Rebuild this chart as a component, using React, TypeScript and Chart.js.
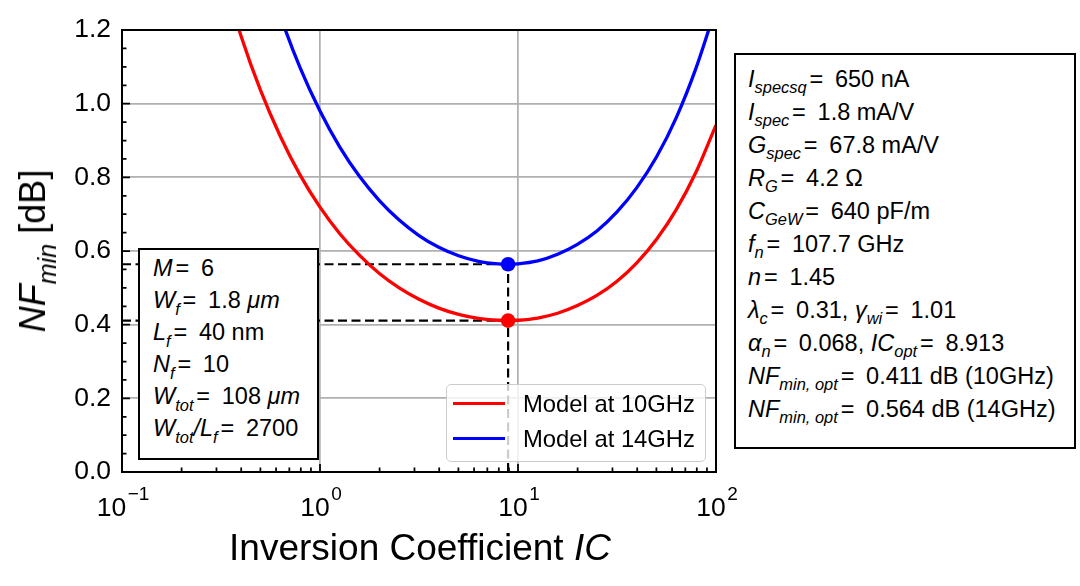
import React, { useEffect, useRef } from "react";
import { Chart, registerables } from "chart.js";

Chart.register(...registerables);

// ---------- data ----------
const seriesLabels = ["Model at 10GHz", "Model at 14GHz"];
const seriesColors = ["#ff0000", "#0000ff"];

const redIC = [0.316, 0.398, 0.501, 0.631, 0.794, 1.0, 1.259, 1.585, 1.995, 2.512, 3.162, 3.981, 5.012, 6.31, 7.943, 8.913, 10, 12.59, 15.85, 19.95, 25.12, 31.62, 39.81, 50.12, 63.1, 79.43, 100];
const redNF = [1.366, 1.186, 1.036, 0.911, 0.806, 0.719, 0.647, 0.588, 0.539, 0.5, 0.469, 0.445, 0.428, 0.417, 0.412, 0.411, 0.412, 0.418, 0.431, 0.452, 0.48, 0.518, 0.568, 0.632, 0.713, 0.815, 0.942];

const blueIC = [0.501, 0.631, 0.794, 1.0, 1.259, 1.585, 1.995, 2.512, 3.162, 3.981, 5.012, 6.31, 7.943, 8.913, 10, 12.59, 15.85, 19.95, 25.12, 31.62, 39.81, 50.12, 63.1, 79.43, 100];
const blueNF = [1.407, 1.238, 1.097, 0.98, 0.882, 0.802, 0.737, 0.684, 0.642, 0.61, 0.587, 0.572, 0.565, 0.564, 0.565, 0.573, 0.591, 0.618, 0.655, 0.706, 0.772, 0.856, 0.963, 1.098, 1.262];

const IC_OPT = 8.913;
const NF_OPT = [0.411, 0.564];

const xMajorTicks = [0.1, 1, 10, 100];
const xTickExponents = ["\u22121", "0", "1", "2"];
const xMinorTicks = [0.2, 0.3, 0.4, 0.5, 0.6, 0.7, 0.8, 0.9, 2, 3, 4, 5, 6, 7, 8, 9, 20, 30, 40, 50, 60, 70, 80, 90];
const yMajorTicks = [0, 0.2, 0.4, 0.6, 0.8, 1.0, 1.2];
const yMinorTicks = [0.05, 0.1, 0.15, 0.25, 0.3, 0.35, 0.45, 0.5, 0.55, 0.65, 0.7, 0.75, 0.85, 0.9, 0.95, 1.05, 1.1, 1.15];

const FONT = '"Liberation Sans", Arial, Helvetica, sans-serif';

// ---------- plugin: inward ticks, spines, x tick labels ----------
const axesDecor = {
  id: "axesDecor",
  afterDatasetsDraw(chart: any) {
    const { ctx, chartArea: a } = chart;
    const xs = chart.scales.x;
    const ys = chart.scales.y;
    ctx.save();
    ctx.strokeStyle = "#000";
    ctx.lineWidth = 1.75;
    ctx.beginPath();
    yMajorTicks.forEach((v) => {
      const y = ys.getPixelForValue(v);
      ctx.moveTo(a.left, y);
      ctx.lineTo(a.left + 8, y);
    });
    yMinorTicks.forEach((v) => {
      const y = ys.getPixelForValue(v);
      ctx.moveTo(a.left, y);
      ctx.lineTo(a.left + 4.5, y);
    });
    xMajorTicks.forEach((v) => {
      const x = xs.getPixelForValue(v);
      ctx.moveTo(x, a.bottom);
      ctx.lineTo(x, a.bottom - 8);
    });
    xMinorTicks.forEach((v) => {
      const x = xs.getPixelForValue(v);
      ctx.moveTo(x, a.bottom);
      ctx.lineTo(x, a.bottom - 4.5);
    });
    ctx.stroke();

    ctx.lineWidth = 2;
    ctx.strokeRect(a.left, a.top, a.right - a.left, a.bottom - a.top);

    // x tick labels 10^n
    ctx.fillStyle = "#000";
    ctx.textBaseline = "alphabetic";
    ctx.textAlign = "left";
    xMajorTicks.forEach((v, i) => {
      const x = xs.getPixelForValue(v);
      ctx.font = `26.5px ${FONT}`;
      const w1 = ctx.measureText("10").width;
      ctx.font = `19px ${FONT}`;
      const w2 = ctx.measureText(xTickExponents[i]).width;
      const total = w1 + 1.5 + w2;
      const x0 = x - total / 2 + 1;
      ctx.font = `26.5px ${FONT}`;
      ctx.fillText("10", x0, a.bottom + 44);
      ctx.font = `19px ${FONT}`;
      ctx.fillText(xTickExponents[i], x0 + w1 + 1.5, a.bottom + 28);
    });
    ctx.restore();
  },
};

const Sub = ({ children }: { children: any }) => (
  <span style={{ fontSize: "0.7em", position: "relative", top: "0.42em", lineHeight: 0, fontStyle: "italic" }}>{children}</span>
);
const Eq = () => <span style={{ marginLeft: "0.12em", marginRight: "0.5em" }}>=</span>;

export default function App() {
  const canvasRef = useRef<HTMLCanvasElement | null>(null);

  useEffect(() => {
    const canvas = canvasRef.current;
    if (!canvas) return;
    const toPts = (xs: number[], ys: number[]) => xs.map((x, i) => ({ x, y: ys[i] }));
    const dashed = {
      borderColor: "#000",
      borderWidth: 2.2,
      borderDash: [9, 4.5],
      pointRadius: 0,
      fill: false,
      order: 3,
      clip: 0,
    };
    const chart = new Chart(canvas, {
      type: "line",
      data: {
        datasets: [
          {
            label: seriesLabels[0] + " opt",
            data: [{ x: IC_OPT, y: NF_OPT[0] }],
            showLine: false,
            pointRadius: 7.3,
            pointBackgroundColor: seriesColors[0],
            pointBorderWidth: 0,
            order: 1,
          },
          {
            label: seriesLabels[1] + " opt",
            data: [{ x: IC_OPT, y: NF_OPT[1] }],
            showLine: false,
            pointRadius: 7.3,
            pointBackgroundColor: seriesColors[1],
            pointBorderWidth: 0,
            order: 1,
          },
          {
            label: seriesLabels[0],
            data: toPts(redIC, redNF),
            borderColor: seriesColors[0],
            borderWidth: 3.3,
            pointRadius: 0,
            cubicInterpolationMode: "monotone",
            order: 2,
            clip: 0,
          },
          {
            label: seriesLabels[1],
            data: toPts(blueIC, blueNF),
            borderColor: seriesColors[1],
            borderWidth: 3.3,
            pointRadius: 0,
            cubicInterpolationMode: "monotone",
            order: 2,
            clip: 0,
          },
          { label: "h10", data: [{ x: xMajorTicks[0], y: NF_OPT[0] }, { x: IC_OPT, y: NF_OPT[0] }], ...dashed },
          { label: "h14", data: [{ x: xMajorTicks[0], y: NF_OPT[1] }, { x: IC_OPT, y: NF_OPT[1] }], ...dashed },
          { label: "v", data: [{ x: IC_OPT, y: 0 }, { x: IC_OPT, y: NF_OPT[1] }], ...dashed },
        ] as any,
      },
      options: {
        responsive: false,
        animation: false,
        events: [],
        layout: { padding: { left: 0, top: 30, right: 364, bottom: 0 } },
        plugins: { legend: { display: false }, tooltip: { enabled: false } },
        scales: {
          x: {
            type: "logarithmic",
            min: 0.1,
            max: 100,
            afterBuildTicks: (s: any) => {
              s.ticks = xMajorTicks.map((v) => ({ value: v }));
            },
            afterFit: (s: any) => {
              s.height = 114;
            },
            ticks: { display: false },
            grid: { color: "#b0b0b0", lineWidth: 1.75, drawTicks: false },
            border: { display: false },
          },
          y: {
            type: "linear",
            min: 0,
            max: 1.2,
            afterBuildTicks: (s: any) => {
              s.ticks = yMajorTicks.map((v) => ({ value: v }));
            },
            afterFit: (s: any) => {
              s.width = 122;
            },
            ticks: {
              autoSkip: false,
              padding: 11,
              color: "#000",
              font: { family: "Liberation Sans", size: 26.5 },
              callback: (v: any) => Number(v).toFixed(1),
            },
            grid: { color: "#b0b0b0", lineWidth: 1.75, drawTicks: false },
            border: { display: false },
          },
        },
      } as any,
      plugins: [axesDecor],
    });
    return () => chart.destroy();
  }, []);

  const leftLines = [
    <><i>M</i><Eq />6</>,
    <><i>W</i><Sub>f</Sub><Eq />1.8 <i>μm</i></>,
    <><i>L</i><Sub>f</Sub><Eq />40 nm</>,
    <><i>N</i><Sub>f</Sub><Eq />10</>,
    <><i>W</i><Sub>tot</Sub><Eq />108 <i>μm</i></>,
    <><i>W</i><Sub>tot</Sub><i>/L</i><Sub>f</Sub><Eq />2700</>,
  ];
  const rightLines = [
    <><i>I</i><Sub>specsq</Sub><Eq />650 nA</>,
    <><i>I</i><Sub>spec</Sub><Eq />1.8 mA/V</>,
    <><i>G</i><Sub>spec</Sub><Eq />67.8 mA/V</>,
    <><i>R</i><Sub>G</Sub><Eq />4.2 Ω</>,
    <><i>C</i><Sub>GeW</Sub><Eq />640 pF/m</>,
    <><i>f</i><Sub>n</Sub><Eq />107.7 GHz</>,
    <><i>n</i><Eq />1.45</>,
    <><i>λ</i><Sub>c</Sub><Eq />0.31, <i>γ</i><Sub>wi</Sub><Eq />1.01</>,
    <><i>α</i><Sub>n</Sub><Eq />0.068, <i>IC</i><Sub>opt</Sub><Eq />8.913</>,
    <><i>NF</i><Sub>min, opt</Sub><Eq />0.411 dB (10GHz)</>,
    <><i>NF</i><Sub>min, opt</Sub><Eq />0.564 dB (14GHz)</>,
  ];

  const boxFont = 23.5;

  return (
    <div
      style={{
        position: "absolute",
        left: 0,
        top: 0,
        width: 1080,
        height: 586,
        overflow: "hidden",
        background: "#fff",
        fontFamily: FONT,
        color: "#000",
      }}
    >
      <canvas ref={canvasRef} width={1080} height={586} style={{ position: "absolute", left: 0, top: 0, width: 1080, height: 586 }} />

      {/* y axis title */}
      <div
        style={{
          position: "absolute",
          left: 33,
          top: 251,
          transform: "translate(-50%,-50%) rotate(-90deg)",
          fontSize: 36,
          lineHeight: 1,
          whiteSpace: "nowrap",
        }}
      >
        <i>NF</i>
        <Sub>min</Sub> [dB]
      </div>

      {/* x axis title */}
      <div
        style={{
          position: "absolute",
          left: 420,
          top: 529.4,
          transform: "translateX(-50%)",
          fontSize: 37,
          lineHeight: 1,
          whiteSpace: "nowrap",
        }}
      >
        Inversion Coefficient <i>IC</i>
      </div>

      {/* legend */}
      <div
        style={{
          position: "absolute",
          left: 446,
          top: 384,
          width: 260,
          height: 78,
          border: "1.5px solid #cccccc",
          borderRadius: 5,
          background: "rgba(255,255,255,0.8)",
          boxSizing: "border-box",
        }}
      />
      {seriesLabels.map((lab, i) => (
        <React.Fragment key={lab}>
          <div
            style={{
              position: "absolute",
              left: 453,
              top: 401.5 + i * 35,
              width: 52,
              height: 3.3,
              background: seriesColors[i],
            }}
          />
          <div
            style={{
              position: "absolute",
              left: 523,
              top: 391.5 + i * 35,
              fontSize: 23.8,
              lineHeight: 1,
              whiteSpace: "nowrap",
            }}
          >
            {lab}
          </div>
        </React.Fragment>
      ))}

      {/* left parameter box */}
      <div
        style={{
          position: "absolute",
          left: 138,
          top: 248,
          width: 181,
          height: 212,
          border: "2px solid #000",
          background: "#fff",
          boxSizing: "border-box",
          paddingLeft: 13,
          paddingTop: 1.8,
          fontSize: boxFont,
          lineHeight: "32px",
          whiteSpace: "nowrap",
        }}
      >
        {leftLines.map((l, i) => (
          <div key={i}>{l}</div>
        ))}
      </div>

      {/* right parameter box */}
      <div
        style={{
          position: "absolute",
          left: 734,
          top: 53,
          width: 342,
          height: 396,
          border: "2px solid #000",
          background: "#fff",
          boxSizing: "border-box",
          paddingLeft: 12,
          paddingTop: 7.5,
          fontSize: boxFont,
          lineHeight: "33px",
          whiteSpace: "nowrap",
        }}
      >
        {rightLines.map((l, i) => (
          <div key={i}>{l}</div>
        ))}
      </div>
    </div>
  );
}
